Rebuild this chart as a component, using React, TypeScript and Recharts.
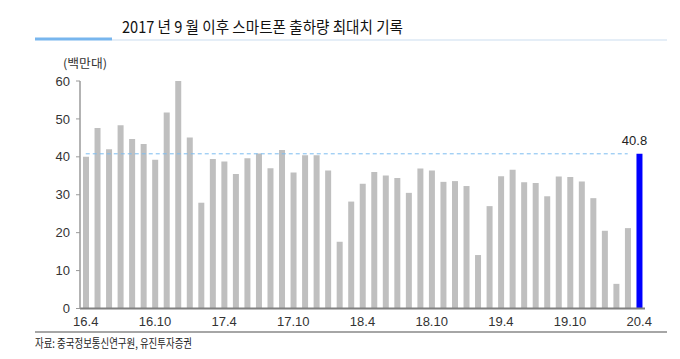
import React from 'react';
import { BarChart, Bar, XAxis, YAxis, Cell, ReferenceLine, LabelList } from 'recharts';

const months: string[] = [
  '16.4', '16.5', '16.6', '16.7', '16.8', '16.9', '16.10', '16.11', '16.12', '17.1', '17.2', '17.3',
  '17.4', '17.5', '17.6', '17.7', '17.8', '17.9', '17.10', '17.11', '17.12', '18.1', '18.2', '18.3',
  '18.4', '18.5', '18.6', '18.7', '18.8', '18.9', '18.10', '18.11', '18.12', '19.1', '19.2', '19.3',
  '19.4', '19.5', '19.6', '19.7', '19.8', '19.9', '19.10', '19.11', '19.12', '20.1', '20.2', '20.3',
  '20.4',
];

const shipments: number[] = [
  40.0, 47.6, 42.0, 48.3, 44.7, 43.4, 39.2, 51.7, 60.0, 45.1, 27.9, 39.4,
  38.8, 35.5, 39.6, 40.9, 37.0, 41.8, 35.9, 40.4, 40.4, 36.4, 17.6, 28.2,
  32.9, 36.0, 35.1, 34.4, 30.5, 36.9, 36.4, 33.4, 33.6, 32.3, 14.1, 27.0,
  34.9, 36.6, 33.3, 33.1, 29.6, 34.8, 34.7, 33.5, 29.1, 20.5, 6.5, 21.2,
  40.8,
];

const yTicks: number[] = [0, 10, 20, 30, 40, 50, 60];
const boundaryTicks: number[] = [0, 6, 12, 18, 24, 30, 36, 42, 48];
const latestValue = shipments[shipments.length - 1];
const prevMonth = months[months.length - 2];

const data = months.map((m, i) => ({ m, v: shipments[i] }));

const XTick = (props: any) => {
  const { x, y, payload } = props;
  return (
    <text x={x} y={y} dy="0.71em" textAnchor="middle" fontSize={13} fill="#333"
      fontFamily="'Liberation Sans', Arial, sans-serif">
      {payload.value}
    </text>
  );
};

const EmptyTick = () => <g />;

const LatestLabel = (props: any) => {
  const { x, y, width, value, index } = props;
  if (index !== shipments.length - 1) return null;
  return (
    <text x={x + width / 2 - 5} y={y - 9} textAnchor="middle" fontSize={13} fill="#222"
      fontFamily="'Liberation Sans', Arial, sans-serif">
      {value}
    </text>
  );
};

export default function App() {
  return (
    <div style={{ position: 'absolute', left: 0, top: 0, width: 680, height: 359, background: '#fff' }}>
      <BarChart width={680} height={359} data={data}
        margin={{ top: 81, right: 35, bottom: 20.5, left: 50 }}>
        <XAxis xAxisId="b" type="number" dataKey="idx" domain={[0, 49]} ticks={boundaryTicks}
          height={0} axisLine={false} tick={EmptyTick} tickSize={3}
          tickLine={{ stroke: '#777', strokeWidth: 1 }} allowDataOverflow />
        <XAxis dataKey="m" interval={5} height={30} tickLine={false}
          axisLine={{ stroke: '#808080', strokeWidth: 2 }} tick={XTick} tickSize={6} tickMargin={2} />
        <YAxis domain={[0, 60]} ticks={yTicks} width={30} tickSize={4} tickMargin={6}
          axisLine={{ stroke: '#9a9a9a', strokeWidth: 1.5 }} tickLine={{ stroke: '#9a9a9a' }}
          tick={{ fontSize: 13, fill: '#333', fontFamily: "'Liberation Sans', Arial, sans-serif" }} />
        <ReferenceLine segment={[{ x: months[0], y: latestValue }, { x: prevMonth, y: latestValue }]}
          stroke="#7dbcf0" strokeDasharray="4 3" strokeWidth={1} />
        <Bar dataKey="v" barSize={6} isAnimationActive={false}>
          {data.map((d, i) => (
            <Cell key={d.m} fill={i === data.length - 1 ? '#0000ff' : '#bfbfbf'} />
          ))}
          <LabelList dataKey="v" content={LatestLabel} />
        </Bar>
      </BarChart>
      <svg width={680} height={359} style={{ position: 'absolute', left: 0, top: 0, pointerEvents: 'none' }}>
        <text x={122} y={33} fontSize={16} fill="#111" fontFamily="'Noto Sans CJK KR', sans-serif"
          textLength={281} lengthAdjust="spacingAndGlyphs">
          2017 년 9 월 이후 스마트폰 출하량 최대치 기록
        </text>
        <rect x={35} y={37.5} width={77} height={3} fill="#78b6ee" />
        <line x1={112} y1={40} x2={667} y2={40} stroke="#dde8f4" strokeWidth={1.5} />
        <text x={63} y={68} fontSize={12} fill="#333" fontFamily="'Noto Sans CJK KR', sans-serif"
          textLength={44} lengthAdjust="spacingAndGlyphs">
          (백만대)
        </text>
        <line x1={35} y1={332} x2={667} y2={332} stroke="#a6a6a6" strokeWidth={2} />
        <text x={35} y={348} fontSize={12} fill="#222" fontFamily="'Noto Sans CJK KR', sans-serif"
          textLength={157} lengthAdjust="spacingAndGlyphs">
          자료: 중국정보통신연구원, 유진투자증권
        </text>
      </svg>
    </div>
  );
}
